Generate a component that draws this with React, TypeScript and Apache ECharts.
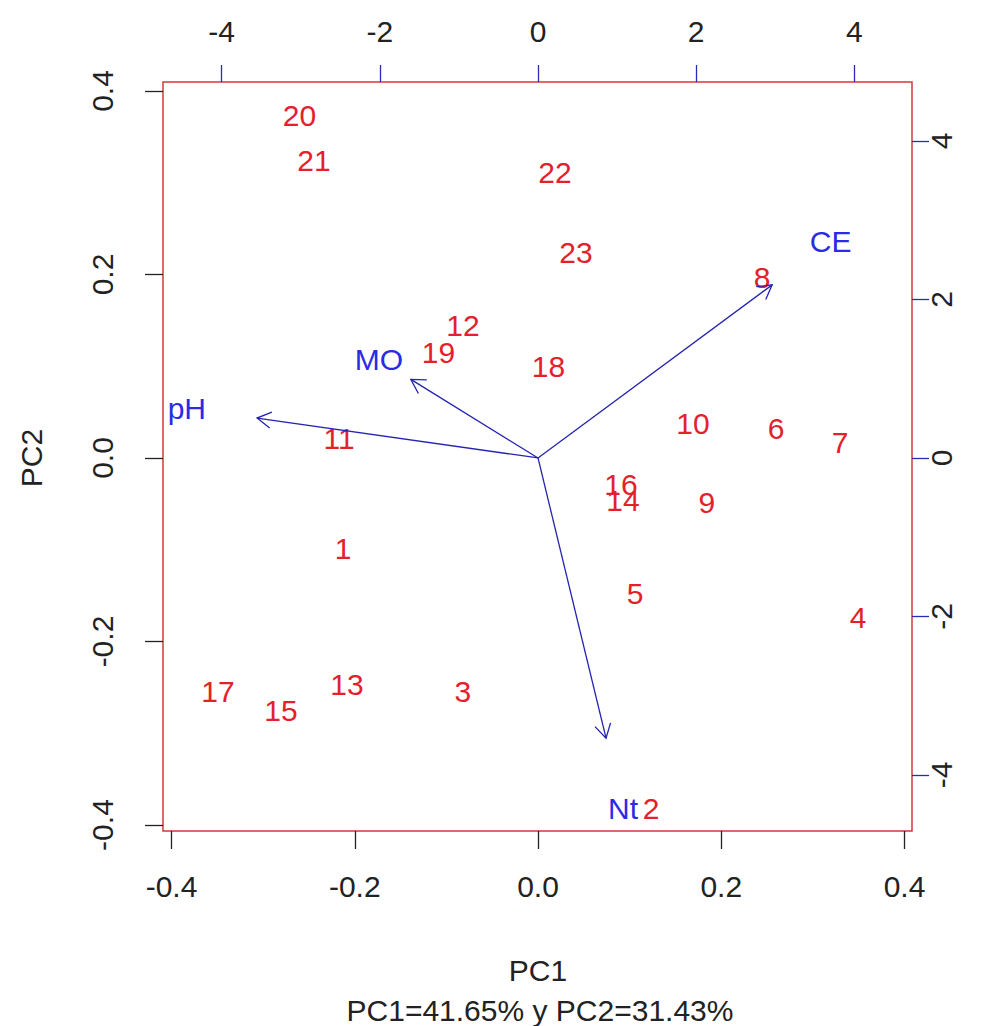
import React, { useEffect, useRef } from "react";
import * as echarts from "echarts";

// ---- Data ----
const sampleNames = ["1","2","3","4","5","6","7","8","9","10","11","12","13","14","15","16","17","18","19","20","21","22","23"];
const pc1Scores = [-0.2128, 0.1233, -0.0819, 0.3493, 0.1059, 0.2598, 0.3296, 0.2445, 0.1844, 0.1692, -0.2172, -0.0819, -0.2085, 0.0928, -0.2805, 0.0906, -0.3493, 0.0115, -0.1086, -0.2603, -0.2445, 0.0186, 0.0415];
const pc2Scores = [-0.0981, -0.3815, -0.2550, -0.1733, -0.1482, 0.0327, 0.0174, 0.1962, -0.0480, 0.0381, 0.0213, 0.1439, -0.2463, -0.0458, -0.2747, -0.0294, -0.2550, 0.0997, 0.1155, 0.3738, 0.3243, 0.3112, 0.2245];

const varNames = ["pH", "MO", "CE", "Nt"];
const varPC1 = [-4.44, -2.01, 3.70, 1.075];
const varPC2 = [0.63, 1.24, 2.73, -4.42];
const ARROW_SCALE = 0.8; // R biplot draws arrows to 0.8 x loading, label at loading

const bottomTicks = [-0.4, -0.2, 0, 0.2, 0.4];
const leftTicks = [-0.4, -0.2, 0, 0.2, 0.4];
const topTicks = [-4, -2, 0, 2, 4];
const rightTicks = [-4, -2, 0, 2, 4];

const xTitle = "PC1";
const xSubTitle = "PC1=41.65% y PC2=31.43%";
const yTitle = "PC2";

const FONT = "'Liberation Sans', Arial, sans-serif";
const RED = "#e4212b";
const BLUE = "#2b2be6";
const ARROW = "#2424b0";
const TICK_BLUE = "#2a2ab8";
const TEXT = "#222222";

export default function App() {
  const ref = useRef<HTMLDivElement>(null);
  useEffect(() => {
    if (!ref.current) return;
    const chart = echarts.init(ref.current, null, { renderer: "svg" });

    const scores = sampleNames.map((n, i) => ({ name: n, value: [pc1Scores[i], pc2Scores[i]] }));
    const loadings = varNames.map((n, i) => ({ name: n, value: [varPC1[i], varPC2[i]] }));

    const baseLabel = { fontSize: 30, fontFamily: FONT, color: TEXT };
    const hiddenLine = { show: false, onZero: false };

    const option: any = {
      animation: false,
      backgroundColor: "#ffffff",
      grid: {
        left: 163, top: 82, width: 749, height: 749,
        show: true, borderColor: "#d23a3a", borderWidth: 1.5, backgroundColor: "transparent",
      },
      xAxis: [
        {
          type: "value", position: "bottom", min: -0.4093, max: 0.4082,
          axisLine: hiddenLine, splitLine: { show: false },
          axisTick: { show: true, customValues: bottomTicks, length: 18, lineStyle: { color: TEXT, width: 1.3 } },
          axisLabel: { ...baseLabel, customValues: bottomTicks, margin: 40, formatter: (v: number) => v.toFixed(1) },
        },
        {
          type: "value", position: "top", min: -4.741, max: 4.728,
          axisLine: hiddenLine, splitLine: { show: false },
          axisTick: { show: true, customValues: topTicks, length: 17, lineStyle: { color: TICK_BLUE, width: 1.3 } },
          axisLabel: { ...baseLabel, customValues: topTicks, margin: 36, formatter: (v: number) => String(v) },
        },
      ],
      yAxis: [
        {
          type: "value", position: "left", min: -0.4065, max: 0.4098,
          axisLine: hiddenLine, splitLine: { show: false },
          axisTick: { show: true, customValues: leftTicks, length: 18, lineStyle: { color: TEXT, width: 1.3 } },
          axisLabel: { ...baseLabel, customValues: leftTicks, margin: 46, rotate: 90, formatter: (v: number) => v.toFixed(1) },
        },
        {
          type: "value", position: "right", min: -4.707, max: 4.744,
          axisLine: hiddenLine, splitLine: { show: false },
          axisTick: { show: true, customValues: rightTicks, length: 17, lineStyle: { color: TICK_BLUE, width: 1.3 } },
          axisLabel: { ...baseLabel, customValues: rightTicks, margin: 14, rotate: 90, formatter: (v: number) => String(v) },
        },
      ],
      series: [
        {
          type: "scatter", xAxisIndex: 0, yAxisIndex: 0, data: scores,
          symbolSize: 1, itemStyle: { color: "rgba(0,0,0,0)", opacity: 1 }, z: 3,
          label: { show: true, position: "inside", formatter: "{b}", fontSize: 30, fontFamily: FONT, color: RED },
          labelLayout: { hideOverlap: false },
        },
        {
          type: "custom", xAxisIndex: 1, yAxisIndex: 1, data: loadings.map((d) => d.value), z: 4,
          renderItem: (params: any, api: any) => {
            const x = api.value(0) * ARROW_SCALE;
            const y = api.value(1) * ARROW_SCALE;
            const s = api.coord([0, 0]);
            const e = api.coord([x, y]);
            const ang = Math.atan2(e[1] - s[1], e[0] - s[0]);
            const L = 16;
            const a1 = ang + Math.PI - Math.PI / 6;
            const a2 = ang + Math.PI + Math.PI / 6;
            const p1 = [e[0] + L * Math.cos(a1), e[1] + L * Math.sin(a1)];
            const p2 = [e[0] + L * Math.cos(a2), e[1] + L * Math.sin(a2)];
            return {
              type: "group",
              children: [
                { type: "line", shape: { x1: s[0], y1: s[1], x2: e[0], y2: e[1] }, style: { stroke: ARROW, lineWidth: 1.3 } },
                { type: "polyline", shape: { points: [p1, e, p2] }, style: { stroke: ARROW, lineWidth: 1.3, fill: "none" } },
              ],
            };
          },
        },
        {
          type: "scatter", xAxisIndex: 1, yAxisIndex: 1, data: loadings,
          symbolSize: 1, itemStyle: { color: "rgba(0,0,0,0)", opacity: 1 }, z: 5,
          label: { show: true, position: "inside", formatter: "{b}", fontSize: 30, fontFamily: FONT, color: BLUE },
          labelLayout: { hideOverlap: false },
        },
      ],
      graphic: [
        { type: "text", x: 538, y: 970, style: { text: xTitle, fontSize: 30, fontFamily: FONT, fill: TEXT, align: "center", verticalAlign: "middle" } },
        { type: "text", x: 540, y: 1010, style: { text: xSubTitle, fontSize: 30, fontFamily: FONT, fill: TEXT, align: "center", verticalAlign: "middle" } },
        { type: "text", x: 31, y: 458, rotation: Math.PI / 2, style: { text: yTitle, fontSize: 30, fontFamily: FONT, fill: TEXT, align: "center", verticalAlign: "middle" } },
      ],
    };
    chart.setOption(option);
    return () => chart.dispose();
  }, []);

  return <div ref={ref} style={{ position: "fixed", left: 0, top: 0, width: 984, height: 1026, background: "#fff" }} />;
}
